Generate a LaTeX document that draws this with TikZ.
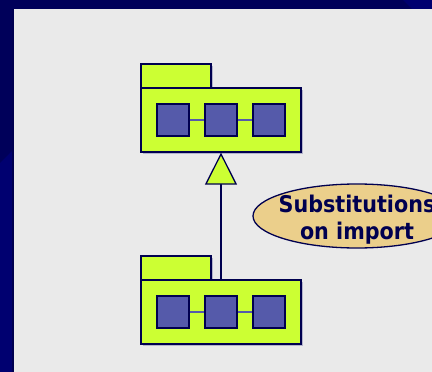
\documentclass[tikz,border=0pt]{standalone}
\usepackage{fontspec}
\newfontfamily\labfont{DejaVu Sans Condensed}
\usetikzlibrary{arrows.meta,shapes.geometric}
\definecolor{navydark}{HTML}{00005A}
\definecolor{navylight}{HTML}{000070}
\definecolor{panelgray}{HTML}{EAEAEA}
\definecolor{pkglime}{HTML}{CCFF33}
\definecolor{outline}{HTML}{000050}
\definecolor{sqblue}{HTML}{555AAA}
\definecolor{notetan}{HTML}{EBCF8B}
\definecolor{shadowc}{HTML}{B4B4CC}
\tikzset{
  pkgtab/.style={draw=outline, fill=pkglime, line width=1.3pt, minimum width=70pt, minimum height=24pt, inner sep=0pt},
  pkgbody/.style={draw=outline, fill=pkglime, line width=1.3pt, minimum width=160pt, minimum height=64pt, inner sep=0pt},
  elem/.style={draw=outline, fill=sqblue, line width=1.3pt, minimum width=32pt, minimum height=32pt, inner sep=0pt},
  elemlink/.style={draw=sqblue, line width=1.5pt},
  inherit/.style={draw=outline, line width=1.3pt, -{Triangle[length=32pt,width=32pt,fill=pkglime]}},
  notebox/.style={ellipse, draw=outline, fill=notetan, line width=1.3pt, minimum width=208pt, minimum height=64pt, inner sep=0pt},
  notetext/.style={text=outline, font=\labfont\bfseries\fontsize{23}{27}\selectfont, align=center, inner sep=0pt}
}
\begin{document}
\begin{tikzpicture}[x=1pt,y=-1pt]
\useasboundingbox (0,0) rectangle (432,372);
\clip (0,0) rectangle (432,372);
% background
\fill[navydark] (0,0) rectangle (432,372);
\fill[navylight] (0,163) -- (14,149) -- (14,372) -- (0,372) -- cycle;
\fill[navylight] (403,0) -- (432,0) -- (432,9) -- (412,9) -- cycle;
\fill[panelgray] (14,9) rectangle (432,372);
\draw[outline, line width=1.5pt] (13,9) -- (13,372);
% shadows
\fill[shadowc] (143,66) rectangle (213,90);
\fill[shadowc] (143,90) rectangle (303,154);
\fill[shadowc] (143,258) rectangle (213,282);
\fill[shadowc] (143,282) rectangle (303,346);
% top package
\node[pkgtab] (ttab) at (176,76) {};
\node[pkgbody] (tbody) at (221,120) {};
\node[elem] (t1) at (173,120) {};
\node[elem] (t2) at (221,120) {};
\node[elem] (t3) at (269,120) {};
\draw[elemlink] (t1) -- (t2);
\draw[elemlink] (t2) -- (t3);
% bottom package
\node[pkgtab] (btab) at (176,268) {};
\node[pkgbody] (bbody) at (221,312) {};
\node[elem] (b1) at (173,312) {};
\node[elem] (b2) at (221,312) {};
\node[elem] (b3) at (269,312) {};
\draw[elemlink] (b1) -- (b2);
\draw[elemlink] (b2) -- (b3);
% inheritance
\draw[inherit] (bbody.north) -- (tbody.south);
% note
\node[notebox] (note) at (357,216) {};
\node[notetext, anchor=base] (notelbl) at ([yshift=-23pt]note.center) {Substitutions\\on import};
\end{tikzpicture}
\end{document}
